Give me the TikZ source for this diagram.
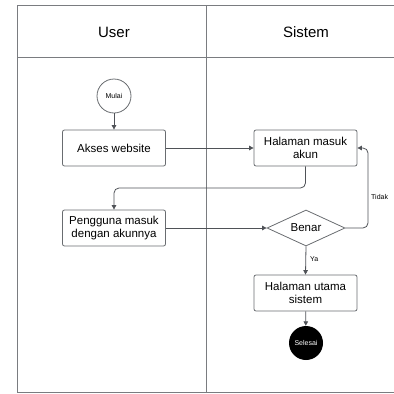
\documentclass[tikz,border=0pt]{standalone}
\usepackage{fontspec}
\setmainfont{Liberation Sans}
\usetikzlibrary{arrows.meta,shapes.geometric}
\definecolor{lane}{HTML}{7A7C80}
\definecolor{edge}{HTML}{4F5257}
\tikzset{
  act/.style={draw=edge!85, line width=0.8pt, rounded corners=2pt, fill=white,
    minimum width=103pt, minimum height=36pt, align=center, inner sep=2pt,
    font=\fontsize{11.5}{13.5}\selectfont},
  conn/.style={draw=edge, line width=0.8pt, rounded corners=5pt,
    -{Triangle[length=4.5pt,width=4.5pt]}},
  lanehead/.style={font=\fontsize{15}{18}\selectfont},
  small/.style={font=\fontsize{7}{8}\selectfont, inner sep=1pt},
}
\begin{document}
\begin{tikzpicture}[x=1pt,y=-1pt]
  \useasboundingbox (0,0) rectangle (394,394);
  % swimlane frame
  \draw[lane, line width=1pt] (394,5) -- (17,5) -- (17,392) -- (394,392);
  \draw[lane, line width=1pt] (17,57) -- (394,57);
  \draw[lane, line width=1pt] (206,5) -- (206,392);
  \node[lanehead] (huser) at (114,32) {User};
  \node[lanehead] (hsis) at (306,32) {Sistem};

  % activities
  \node[circle, draw=edge!85, line width=0.8pt, minimum size=34pt, inner sep=0pt,
        font=\fontsize{7}{8}\selectfont] (mulai) at (114,96) {Mulai};
  \node[act] (akses) at (114,148) {Akses website};
  \node[act] (hm) at (305.5,148) {Halaman masuk\\akun};
  \node[act] (pg) at (114,228) {Pengguna masuk\\dengan akunnya};
  \node[diamond, aspect=2.15, draw=edge!85, line width=0.8pt, inner sep=1pt,
        minimum width=78pt, minimum height=36pt,
        font=\fontsize{11.5}{13.5}\selectfont] (benar) at (306,228) {Benar};
  \node[act] (hu) at (305.5,293) {Halaman utama\\sistem};
  \node[circle, fill=black, minimum size=34pt, inner sep=0pt, text=white,
        font=\fontsize{7}{8}\selectfont] (selesai) at (306,343) {Selesai};

  % flow
  \coordinate (turn) at (200,188);
  \coordinate (loop) at (368,190);
  \draw[conn] (mulai) -- (akses);
  \draw[conn] (akses) -- (hm);
  \draw[conn] (hm.south) |- (turn) -| (pg.north);
  \draw[conn] (pg) -- (benar);
  \draw[conn] (benar.east) -| (loop) |- (hm.east);
  \draw[conn] (benar.south) -- (hu.north);
  \draw[conn] (hu) -- (selesai);
  \node[small, anchor=west] (tidak) at (370,197) {Tidak};
  \node[small, anchor=west] (ya) at (309,259) {Ya};
\end{tikzpicture}
\end{document}
